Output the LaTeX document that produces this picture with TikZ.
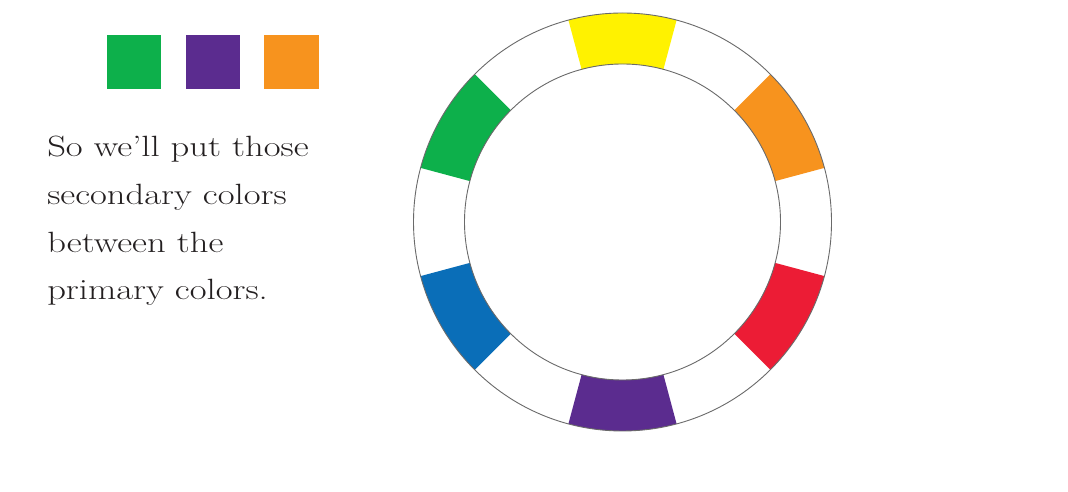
\documentclass[tikz,border=0pt]{standalone}
\usepackage{fontspec}
\definecolor{cwYellow}{HTML}{FFF200}
\definecolor{cwOrange}{HTML}{F7931E}
\definecolor{cwRed}{HTML}{EC1C35}
\definecolor{cwPurple}{HTML}{5B2C8F}
\definecolor{cwBlue}{HTML}{0A6EB8}
\definecolor{cwGreen}{HTML}{0DB04B}
\definecolor{ringline}{HTML}{6A6A6A}
\definecolor{txt}{HTML}{231F20}
\tikzset{
  swatch/.style={minimum size=54.5pt, inner sep=0pt, outer sep=0pt, draw=none},
  ringcircle/.style={draw=ringline, line width=0.9pt},
  bodytext/.style={anchor=base west, inner sep=0pt, align=left, text=txt,
    xscale=1.25, transform shape,
    font=\fontsize{29.3pt}{47.7pt}\selectfont}
}
\newcommand{\wheelseg}[2]{%
  \fill[#2] (#1-15:158) -- (#1-15:209) arc[start angle=#1-15, end angle=#1+15, radius=209]
    -- (#1+15:158) arc[start angle=#1+15, end angle=#1-15, radius=158] -- cycle;}
\begin{document}
\begin{tikzpicture}[x=1pt,y=1pt]
\useasboundingbox (0,0) rectangle (1068,492);
\fill[white] (0,0) rectangle (1068,492);
% swatches of secondary colours
\node[swatch, fill=cwGreen]  (sqGreen)  at (134.0,430.0) {};
\node[swatch, fill=cwPurple] (sqPurple) at (212.8,430.0) {};
\node[swatch, fill=cwOrange] (sqOrange) at (291.6,430.0) {};
% text (anchor is the baseline of the last line)
\node[bodytext] (body) at (47,192) {So we’ll put those\\secondary colors\\between the\\primary colors.};
% colour wheel
\begin{scope}[shift={(622.5,270)}]
  \wheelseg{90}{cwYellow}
  \wheelseg{30}{cwOrange}
  \wheelseg{-30}{cwRed}
  \wheelseg{-90}{cwPurple}
  \wheelseg{-150}{cwBlue}
  \wheelseg{150}{cwGreen}
  \draw[ringcircle] (0,0) circle[radius=209];
  \draw[ringcircle] (0,0) circle[radius=158];
\end{scope}
\end{tikzpicture}
\end{document}
